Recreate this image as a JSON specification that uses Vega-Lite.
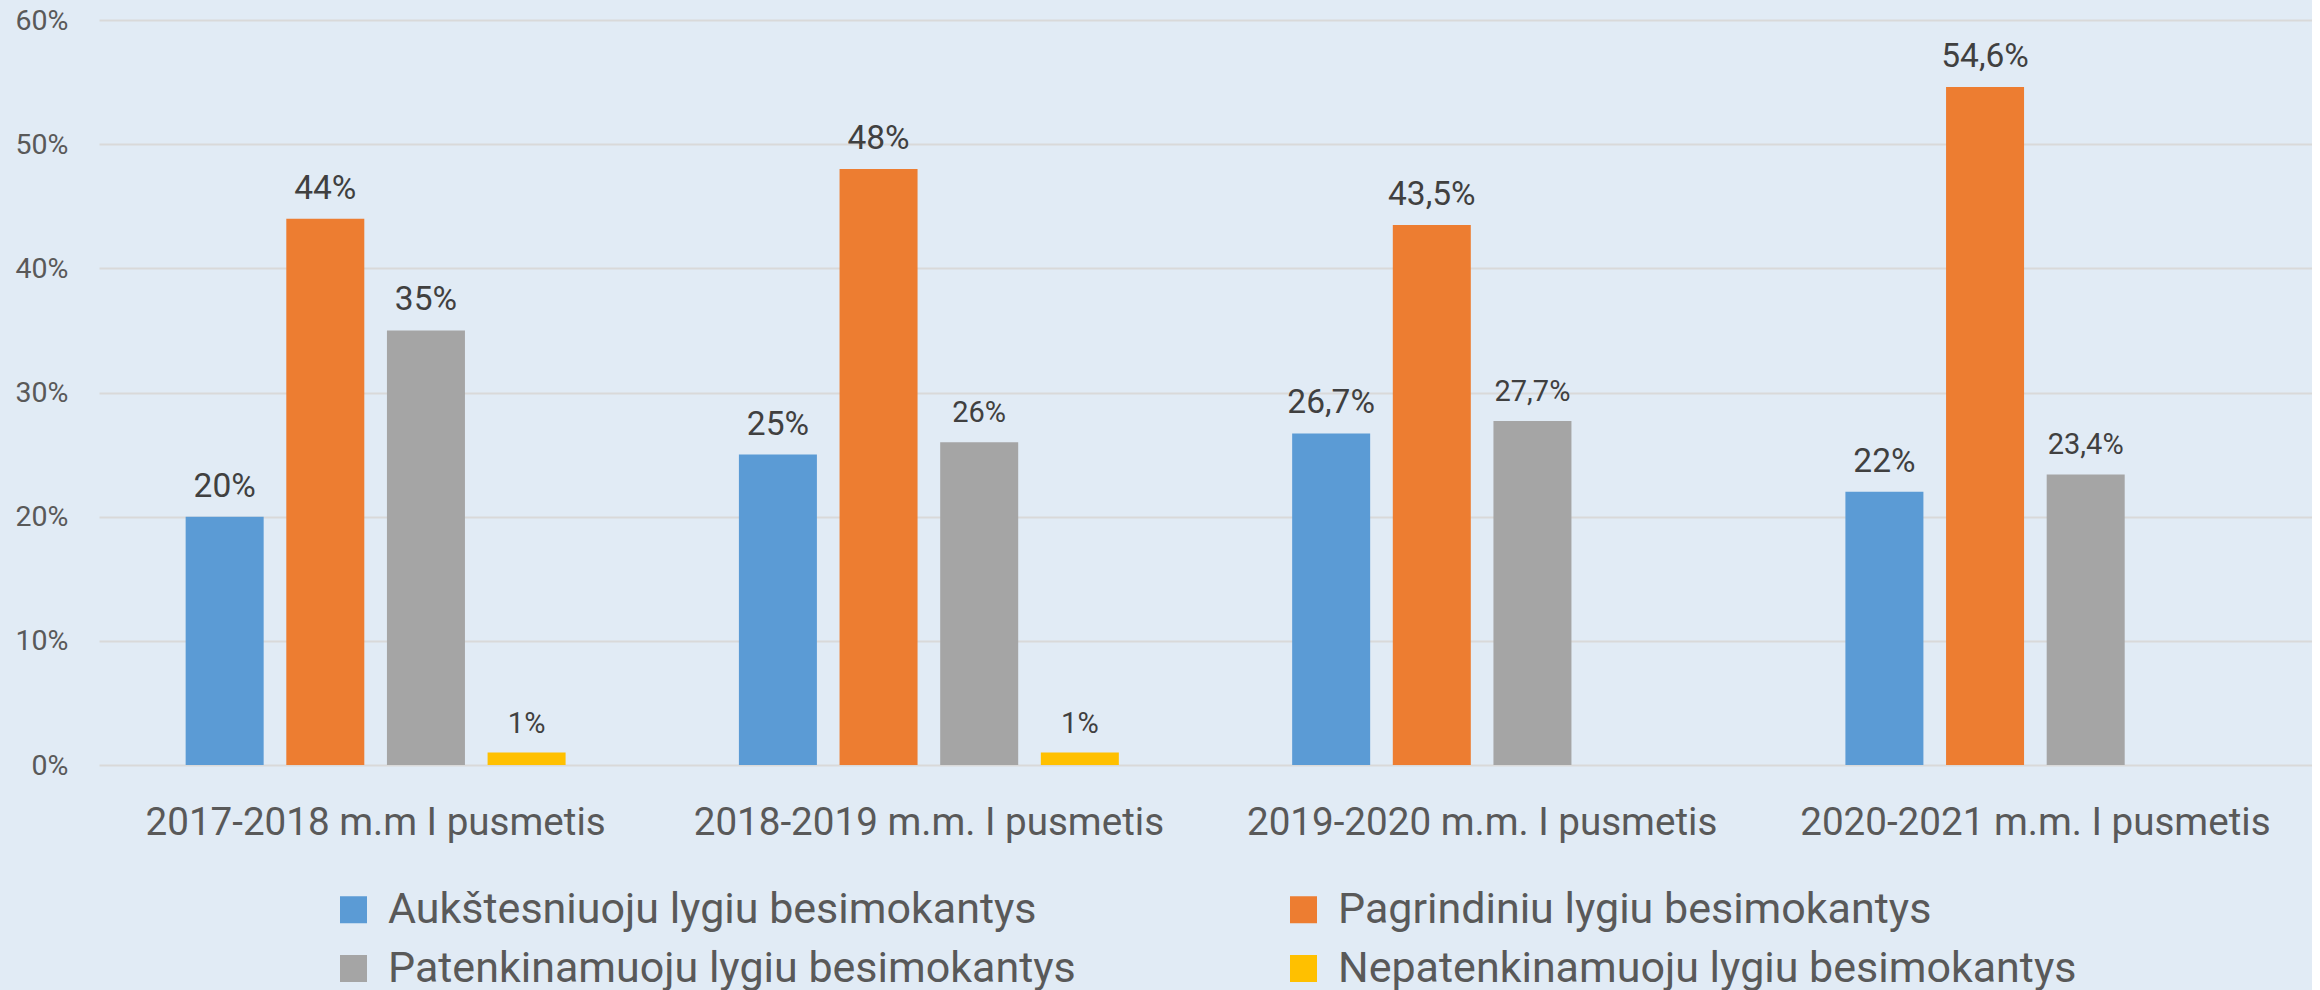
{
  "$schema": "https://vega.github.io/schema/vega-lite/v6.json",
  "width": 2213,
  "height": 745,
  "padding": {"left": 15, "top": 6, "right": 0, "bottom": 0},
  "background": "#E1EBF5",
  "config": {
    "view": {"stroke": null},
    "font": "Roboto",
    "locale": {"number": {"decimal": ",", "thousands": " ", "grouping": [3], "currency": ["", " €"]}}
  },
  "data": {
    "values": [
      {"period": "2017-2018 m.m I pusmetis", "series": "Aukštesniuoju lygiu besimokantys", "value": 0.20},
      {"period": "2017-2018 m.m I pusmetis", "series": "Pagrindiniu lygiu besimokantys", "value": 0.44},
      {"period": "2017-2018 m.m I pusmetis", "series": "Patenkinamuoju lygiu besimokantys", "value": 0.35},
      {"period": "2017-2018 m.m I pusmetis", "series": "Nepatenkinamuoju lygiu besimokantys", "value": 0.01},
      {"period": "2018-2019 m.m. I pusmetis", "series": "Aukštesniuoju lygiu besimokantys", "value": 0.25},
      {"period": "2018-2019 m.m. I pusmetis", "series": "Pagrindiniu lygiu besimokantys", "value": 0.48},
      {"period": "2018-2019 m.m. I pusmetis", "series": "Patenkinamuoju lygiu besimokantys", "value": 0.26},
      {"period": "2018-2019 m.m. I pusmetis", "series": "Nepatenkinamuoju lygiu besimokantys", "value": 0.01},
      {"period": "2019-2020 m.m. I pusmetis", "series": "Aukštesniuoju lygiu besimokantys", "value": 0.267},
      {"period": "2019-2020 m.m. I pusmetis", "series": "Pagrindiniu lygiu besimokantys", "value": 0.435},
      {"period": "2019-2020 m.m. I pusmetis", "series": "Patenkinamuoju lygiu besimokantys", "value": 0.277},
      {"period": "2020-2021 m.m. I pusmetis", "series": "Aukštesniuoju lygiu besimokantys", "value": 0.22},
      {"period": "2020-2021 m.m. I pusmetis", "series": "Pagrindiniu lygiu besimokantys", "value": 0.546},
      {"period": "2020-2021 m.m. I pusmetis", "series": "Patenkinamuoju lygiu besimokantys", "value": 0.234}
    ]
  },
  "encoding": {
    "x": {
      "field": "period", "type": "nominal", "sort": null,
      "scale": {"paddingInner": 0, "paddingOuter": 0},
      "axis": {"title": null, "labelAngle": 0, "labelFontSize": 38.6, "labelColor": "#595959", "labelPadding": 39, "ticks": false, "domain": false, "labelFont": "Roboto", "labelLimit": 2000}
    },
    "xOffset": {
      "field": "series", "type": "nominal",
      "sort": ["Aukštesniuoju lygiu besimokantys", "Pagrindiniu lygiu besimokantys", "Patenkinamuoju lygiu besimokantys", "Nepatenkinamuoju lygiu besimokantys"],
      "scale": {"paddingInner": 0.225, "paddingOuter": 0.861}
    },
    "y": {
      "field": "value", "type": "quantitative",
      "scale": {"domain": [0, 0.6], "nice": false},
      "axis": {"title": null, "values": [0, 0.1, 0.2, 0.3, 0.4, 0.5, 0.6], "format": ".0%", "labelFontSize": 28.5, "labelColor": "#595959", "labelPadding": 31, "ticks": false, "domain": false, "grid": true, "gridColor": "#D9D9D9", "gridWidth": 2, "labelFont": "Roboto"}
    }
  },
  "layer": [
    {
      "mark": {"type": "bar"},
      "encoding": {
        "color": {
          "field": "series", "type": "nominal",
          "scale": {
            "domain": ["Aukštesniuoju lygiu besimokantys", "Pagrindiniu lygiu besimokantys", "Patenkinamuoju lygiu besimokantys", "Nepatenkinamuoju lygiu besimokantys"],
            "range": ["#5B9BD5", "#ED7D31", "#A5A5A5", "#FFC000"]
          },
          "legend": {
            "title": null, "orient": "none", "legendX": 233, "legendY": 868,
            "direction": "horizontal", "columns": 2, "columnPadding": 206, "rowPadding": 15,
            "symbolType": "square", "symbolSize": 729, "symbolStrokeWidth": 0,
            "labelFontSize": 43, "labelColor": "#595959", "labelOffset": 13, "labelLimit": 2000, "labelFont": "Roboto"
          }
        }
      }
    },
    {
      "mark": {"type": "text", "baseline": "alphabetic", "align": "center", "dy": -20, "color": "#404040", "font": "Roboto"},
      "encoding": {
        "text": {"field": "value", "type": "quantitative", "format": ".1~%"},
        "size": {
          "condition": {"test": "datum.series === 'Nepatenkinamuoju lygiu besimokantys' || (datum.series === 'Patenkinamuoju lygiu besimokantys' && datum.period !== '2017-2018 m.m I pusmetis')", "value": 29},
          "value": 33.5
        }
      }
    }
  ]
}
